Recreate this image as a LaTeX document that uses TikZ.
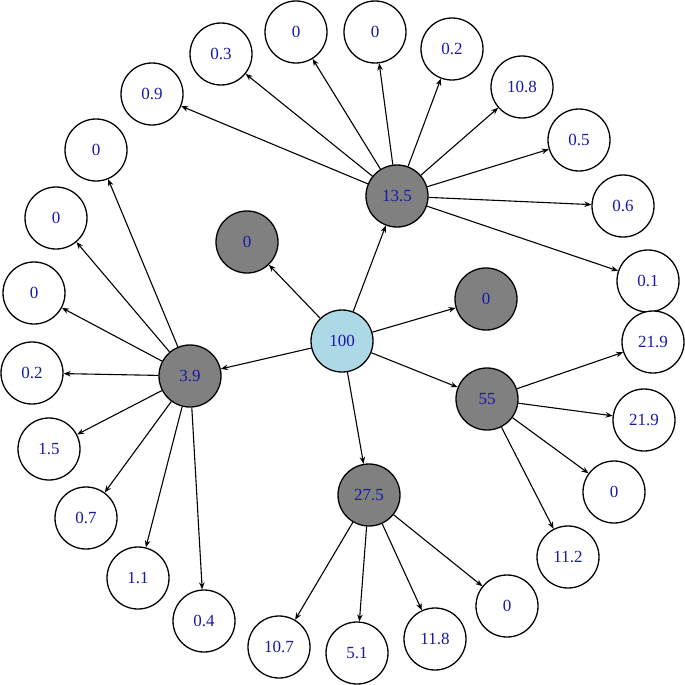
\documentclass[tikz,border=0pt]{standalone}
\usepackage{fontspec}
\setmainfont{Liberation Serif}
\usetikzlibrary{arrows.meta}
\definecolor{txtblue}{RGB}{25,25,170}
\definecolor{rootblue}{RGB}{173,216,230}
\definecolor{midgray}{RGB}{128,128,128}
\tikzset{
  vnode/.style={circle,draw=black,line width=1.3pt,minimum size=62pt,inner sep=0pt,
    font=\fontsize{17}{17}\selectfont,text=txtblue,fill=white},
  rootnode/.style={vnode,fill=rootblue},
  graynode/.style={vnode,fill=midgray},
  edge/.style={line width=1.1pt,-{Stealth[length=7pt,width=5.5pt]}}
}
\begin{document}
\begin{tikzpicture}[x=1pt,y=-1pt]
\useasboundingbox (0,0) rectangle (685,685);
% main nodes
\node[rootnode] (r) at (342,341) {100};
\node[graynode] (a) at (397,196) {13.5};
\node[graynode] (g1) at (247,242) {0};
\node[graynode] (g2) at (486,299) {0};
\node[graynode] (b) at (190,376) {3.9};
\node[graynode] (c) at (487,399) {55};
\node[graynode] (d) at (369,495) {27.5};
% children of 13.5
\node[vnode] (a1) at (152,94) {0.9};
\node[vnode] (a2) at (221,54) {0.3};
\node[vnode] (a3) at (296,32) {0};
\node[vnode] (a4) at (375,32) {0};
\node[vnode] (a5) at (452,49) {0.2};
\node[vnode] (a6) at (522,87) {10.8};
\node[vnode] (a7) at (579,140) {0.5};
\node[vnode] (a8) at (623,206) {0.6};
\node[vnode] (a9) at (648,281) {0.1};
% children of 3.9
\node[vnode] (b1) at (96,150) {0};
\node[vnode] (b2) at (56,218) {0};
\node[vnode] (b3) at (34,293) {0};
\node[vnode] (b4) at (32,373) {0.2};
\node[vnode] (b5) at (49,449) {1.5};
\node[vnode] (b6) at (86,518) {0.7};
\node[vnode] (b7) at (138,578) {1.1};
\node[vnode] (b8) at (204,621) {0.4};
% children of 55
\node[vnode] (c1) at (653,342) {21.9};
\node[vnode] (c2) at (644,420) {21.9};
\node[vnode] (c3) at (614,492) {0};
\node[vnode] (c4) at (568,557) {11.2};
% children of 27.5
\node[vnode] (d1) at (279,647) {10.7};
\node[vnode] (d2) at (357,653) {5.1};
\node[vnode] (d3) at (435,639) {11.8};
\node[vnode] (d4) at (507,606) {0};
% edges
\foreach \t in {a,g1,g2,b,c,d} \draw[edge] (r) -- (\t);
\foreach \t in {a1,a2,a3,a4,a5,a6,a7,a8,a9} \draw[edge] (a) -- (\t);
\foreach \t in {b1,b2,b3,b4,b5,b6,b7,b8} \draw[edge] (b) -- (\t);
\foreach \t in {c1,c2,c3,c4} \draw[edge] (c) -- (\t);
\foreach \t in {d1,d2,d3,d4} \draw[edge] (d) -- (\t);
\end{tikzpicture}
\end{document}
